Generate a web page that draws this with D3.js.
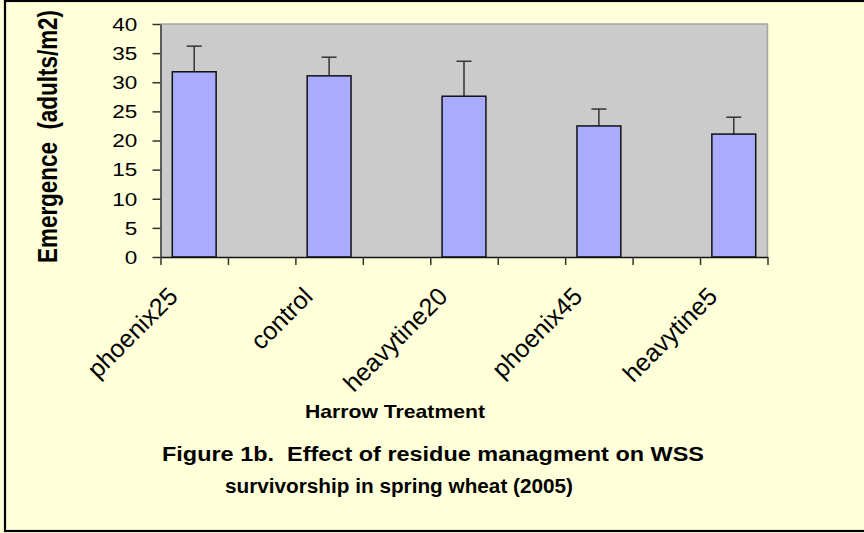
<!DOCTYPE html>
<html>
<head>
<meta charset="utf-8">
<script src="https://cdn.jsdelivr.net/npm/d3@7"></script>
<style>
  body { margin: 0; background: #FFFFD9; }
  svg { display: block; font-family: Arial, "Liberation Sans", sans-serif; }
  text.pre { white-space: pre; }
</style>
</head>
<body>
<div id="chart"></div>
<script>
// category slots along the x axis (blank slots sit between the treatments)
const slots = ["phoenix25", "", "control", "", "heavytine20", "", "phoenix45", "", "heavytine5"];
const treatments = ["phoenix25", "control", "heavytine20", "phoenix45", "heavytine5"];
// mean emergence (adults/m2) and the upper error bar length
const emergence = [31.8, 31.1, 27.6, 22.5, 21.1];
const errUp = [4.4, 3.2, 6.0, 2.9, 2.9];
const yTicks = [0, 5, 10, 15, 20, 25, 30, 35, 40];

const yTitle = "Emergence  (adults/m2)";
const xTitle = "Harrow Treatment";
const caption = ["Figure 1b.  Effect of residue managment on WSS", "survivorship in spring wheat (2005)"];

const config = {width: 864, height: 533, left: 160.5, right: 767.5, top: 24, bottom: 257};

const svg = d3.select("#chart")
    .append("svg")
    .attr("width", config.width)
    .attr("height", config.height);

// chart background + frame
svg.append("rect")
    .attr("x", 5).attr("y", 1)
    .attr("width", 880).attr("height", 530)
    .attr("fill", "#FFFFD9")
    .attr("stroke", "#000")
    .attr("stroke-width", 2.2);

const x = d3.scaleBand()
    .domain(d3.range(slots.length))
    .range([config.left, config.right])
    .paddingInner(0.35)
    .paddingOuter(0.175);

// boundaries between slots (for the tick marks)
const xEdge = d3.scaleLinear()
    .domain([0, slots.length])
    .range([config.left, config.right]);

const y = d3.scaleLinear()
    .domain([0, 40])
    .range([config.bottom, config.top]);

// plot area
svg.append("rect")
    .attr("x", config.left).attr("y", config.top)
    .attr("width", config.right - config.left)
    .attr("height", config.bottom - config.top)
    .attr("fill", "#CBCBCB");
svg.append("path")
    .attr("d", `M${config.left},${config.top}H${config.right}V${config.bottom}`)
    .attr("fill", "none")
    .attr("stroke", "#A4A4A4")
    .attr("stroke-width", 1.5);

const data = treatments.map((t, i) => ({name: t, slot: slots.indexOf(t), value: emergence[i], err: errUp[i]}));

// error bars (upper only)
const eb = svg.append("g").attr("stroke", "#333").attr("stroke-width", 1.5);
eb.selectAll("line.stem")
    .data(data).enter().append("line")
    .attr("x1", d => x(d.slot) + x.bandwidth() / 2)
    .attr("x2", d => x(d.slot) + x.bandwidth() / 2)
    .attr("y1", d => y(d.value))
    .attr("y2", d => y(d.value + d.err));
eb.selectAll("line.cap")
    .data(data).enter().append("line")
    .attr("x1", d => x(d.slot) + x.bandwidth() / 2 - 7.5)
    .attr("x2", d => x(d.slot) + x.bandwidth() / 2 + 7.5)
    .attr("y1", d => y(d.value + d.err))
    .attr("y2", d => y(d.value + d.err));

// bars
svg.append("g")
    .selectAll("rect")
    .data(data).enter().append("rect")
    .attr("x", d => x(d.slot))
    .attr("y", d => y(d.value))
    .attr("width", x.bandwidth())
    .attr("height", d => y(0) - y(d.value))
    .attr("fill", "#A9ABFF")
    .attr("stroke", "#111")
    .attr("stroke-width", 1.5);

// y axis
const yAxis = svg.append("g")
    .attr("transform", `translate(${config.left},0)`)
    .call(d3.axisLeft(y).tickValues(yTicks).tickSize(8).tickSizeOuter(0));
yAxis.select(".domain").attr("stroke", "#333").attr("stroke-width", 1.5);
yAxis.selectAll(".tick line").attr("stroke", "#333").attr("stroke-width", 1.5);
yAxis.selectAll(".tick text")
    .attr("x", -18.5)
    .attr("transform", "scale(1.25,1)")
    .attr("dy", "0.35em")
    .style("font-size", "18px")
    .style("font-family", "Arial, 'Liberation Sans', sans-serif")
    .attr("fill", "#000");

// x axis (ticks at slot edges, labels drawn separately)
const xAxis = svg.append("g")
    .attr("transform", `translate(0,${config.bottom})`)
    .call(d3.axisBottom(xEdge).tickValues(d3.range(slots.length + 1)).tickFormat("").tickSize(8).tickSizeOuter(0));
xAxis.select(".domain").attr("stroke", "#111").attr("stroke-width", 1.5);
xAxis.selectAll(".tick line").attr("stroke", "#333").attr("stroke-width", 1.5);

svg.append("g")
    .selectAll("text")
    .data(data).enter().append("text")
    .attr("transform", d => `translate(${x(d.slot) + x.bandwidth() / 2 - 15},298) rotate(-45)`)
    .attr("text-anchor", "end")
    .style("font-size", "25px")
    .text(d => d.name);

// axis titles
svg.append("text")
    .attr("class", "pre")
    .attr("transform", "translate(57,136.5) scale(1.29,1) rotate(-90)")
    .attr("text-anchor", "middle")
    .attr("font-weight", "bold")
    .attr("textLength", 253)
    .attr("lengthAdjust", "spacingAndGlyphs")
    .style("font-size", "22px")
    .text(yTitle);

svg.append("text")
    .attr("x", 305).attr("y", 418.3)
    .attr("font-weight", "bold")
    .attr("textLength", 180)
    .attr("lengthAdjust", "spacingAndGlyphs")
    .style("font-size", "18.6px")
    .text(xTitle);

// figure caption
const capX = [162, 225];
const capY = [460.7, 493];
const capW = [542, 348];
svg.append("g")
    .selectAll("text")
    .data(caption).enter().append("text")
    .attr("class", "pre")
    .attr("x", (d, i) => capX[i])
    .attr("y", (d, i) => capY[i])
    .attr("font-weight", "bold")
    .attr("textLength", (d, i) => capW[i])
    .attr("lengthAdjust", "spacingAndGlyphs")
    .style("font-size", "19.5px")
    .text(d => d);
</script>
</body>
</html>
